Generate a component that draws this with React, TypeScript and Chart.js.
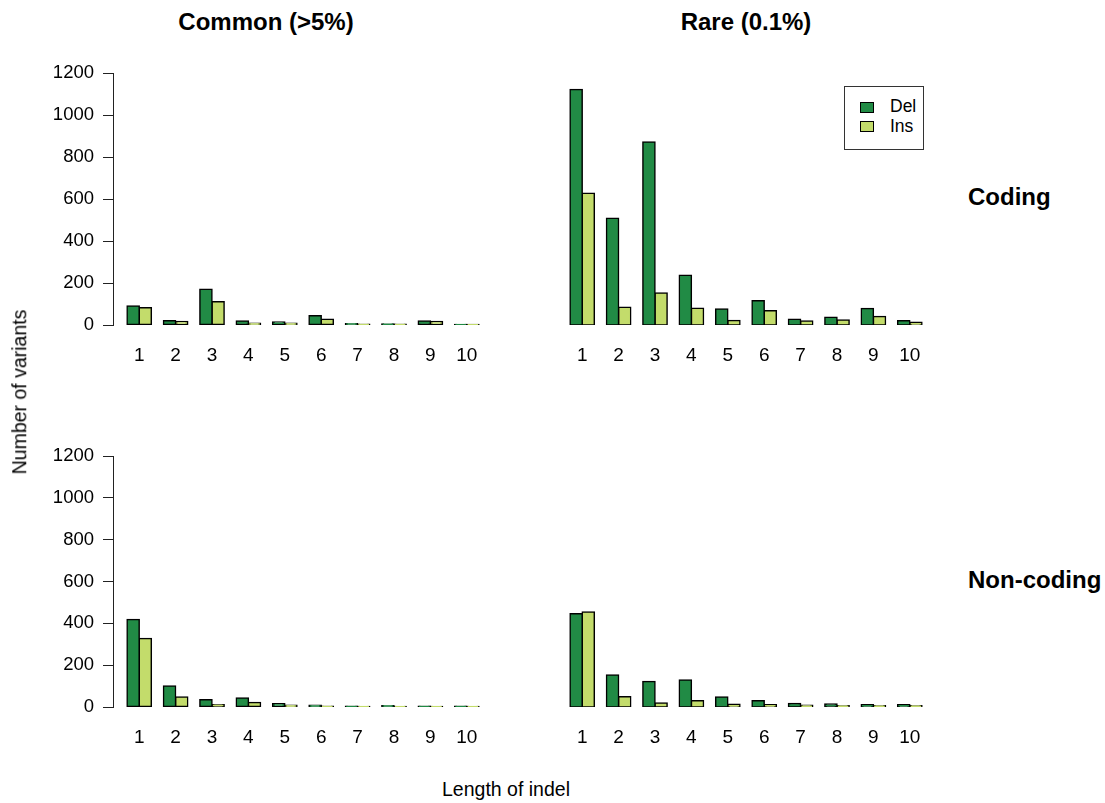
import React, { useEffect, useRef } from 'react';
import { Chart, registerables } from 'chart.js';

Chart.register(...registerables);

const lengths = [1, 2, 3, 4, 5, 6, 7, 8, 9, 10];
const yTicks = [0, 200, 400, 600, 800, 1000, 1200];

const commonCodingDel = [90, 20, 170, 19, 14, 44, 6, 5, 19, 2];
const commonCodingIns = [82, 17, 111, 8, 8, 27, 3, 3, 17, 1];
const rareCodingDel = [1122, 508, 871, 237, 76, 116, 27, 37, 79, 20];
const rareCodingIns = [627, 84, 152, 80, 22, 68, 19, 24, 41, 13];
const commonNonDel = [419, 100, 35, 43, 16, 8, 3, 6, 3, 3];
const commonNonIns = [328, 48, 11, 21, 8, 3, 2, 2, 2, 2];
const rareNonDel = [446, 153, 122, 129, 48, 30, 17, 14, 11, 11];
const rareNonIns = [454, 49, 19, 30, 13, 11, 8, 6, 6, 6];

const DEL_COLOR = '#218b45';
const INS_COLOR = '#c3dc6b';
const FONT = '"Liberation Sans", Arial, Helvetica, sans-serif';

Chart.defaults.font.family = FONT;
Chart.defaults.color = '#000';

type PanelProps = {
  del: number[];
  ins: number[];
  left: number;
  top: number;
  plotH: number;
  showY: boolean;
};

function Panel({ del, ins, left, top, plotH, showY }: PanelProps) {
  const ref = useRef<HTMLCanvasElement>(null);
  const W = 490;
  const H = 20 + plotH + 50;
  useEffect(() => {
    const barStyle = {
      borderColor: '#000',
      borderWidth: 1.5,
      inflateAmount: 0.75,
      borderSkipped: false,
      categoryPercentage: 2 / 3,
      barPercentage: 1,
    };
    const chart = new Chart(ref.current as HTMLCanvasElement, {
      type: 'bar',
      data: {
        datasets: [
          {
            label: 'Del',
            data: lengths.map((x, i) => ({ x, y: del[i] })),
            backgroundColor: DEL_COLOR,
            ...barStyle,
          },
          {
            label: 'Ins',
            data: lengths.map((x, i) => ({ x, y: ins[i] })),
            backgroundColor: INS_COLOR,
            ...barStyle,
          },
        ],
      } as any,
      options: {
        responsive: false,
        animation: false,
        layout: { padding: { top: 20, right: 10, left: 0, bottom: 0 } },
        plugins: { legend: { display: false }, tooltip: { enabled: false } },
        scales: {
          x: {
            type: 'linear',
            offset: false,
            min: 0.28,
            max: 10.72,
            grid: { display: false, drawTicks: false },
            border: { display: false },
            ticks: {
              font: { size: 19 },
              color: '#000',
              padding: 19,
              maxRotation: 0,
              autoSkip: false,
              callback: (v: any) => String(v),
            },
            afterBuildTicks: (s: any) => {
              s.ticks = lengths.map((v) => ({ value: v }));
            },
            afterFit: (s: any) => {
              s.height = 50;
            },
          },
          y: {
            display: showY,
            min: 0,
            max: 1200,
            afterBuildTicks: (s: any) => {
              s.ticks = yTicks.map((v) => ({ value: v }));
            },
            grid: {
              display: true,
              drawOnChartArea: false,
              drawTicks: true,
              tickLength: 10,
              color: '#222',
            },
            border: { display: true, color: '#222', width: 1 },
            ticks: {
              font: { size: 18.5 },
              color: '#000',
              padding: 9,
              callback: (v: any) => String(v),
            },
            afterFit: (s: any) => {
              s.width = 100;
            },
          },
        },
      } as any,
    });
    return () => chart.destroy();
  }, []);
  return (
    <canvas
      ref={ref}
      width={W}
      height={H}
      style={{ position: 'absolute', left: left - 100, top: top - 20, width: W, height: H }}
    />
  );
}

const textBase: React.CSSProperties = {
  position: 'absolute',
  fontFamily: FONT,
  color: '#000',
  whiteSpace: 'nowrap',
  lineHeight: 1,
};

export default function App() {
  return (
    <div
      style={{
        position: 'absolute',
        left: 0,
        top: 0,
        width: 1105,
        height: 803,
        background: '#fff',
        overflow: 'hidden',
      }}
    >
      <Panel del={commonCodingDel} ins={commonCodingIns} left={113} top={73} plotH={252} showY={true} />
      <Panel del={rareCodingDel} ins={rareCodingIns} left={556} top={73} plotH={252} showY={false} />
      <Panel del={commonNonDel} ins={commonNonIns} left={113} top={456} plotH={251} showY={true} />
      <Panel del={rareNonDel} ins={rareNonIns} left={556} top={456} plotH={251} showY={false} />

      <div style={{ ...textBase, left: 266, top: 22, transform: 'translate(-50%, -50%)', fontSize: 24, fontWeight: 'bold' }}>
        Common (&gt;5%)
      </div>
      <div style={{ ...textBase, left: 746, top: 22, transform: 'translate(-50%, -50%)', fontSize: 24, fontWeight: 'bold' }}>
        Rare (0.1%)
      </div>
      <div style={{ ...textBase, left: 968, top: 197, transform: 'translate(0, -50%)', fontSize: 24, fontWeight: 'bold' }}>
        Coding
      </div>
      <div style={{ ...textBase, left: 968, top: 580, transform: 'translate(0, -50%)', fontSize: 24, fontWeight: 'bold' }}>
        Non-coding
      </div>
      <div
        style={{
          ...textBase,
          left: 20,
          top: 392,
          transform: 'translate(-50%, -50%) rotate(-90deg)',
          fontSize: 19.5,
        }}
      >
        Number of variants
      </div>
      <div style={{ ...textBase, left: 506, top: 790, transform: 'translate(-50%, -50%)', fontSize: 19.5 }}>
        Length of indel
      </div>

      <div
        style={{
          position: 'absolute',
          left: 844,
          top: 86,
          width: 78,
          height: 62,
          border: '1px solid #333',
          background: '#fff',
        }}
      >
        <div style={{ position: 'absolute', left: 15, top: 15, width: 12, height: 9, background: DEL_COLOR, border: '1px solid #000' }} />
        <div style={{ ...textBase, left: 45, top: 20, transform: 'translate(0, -50%)', fontSize: 17.5 }}>Del</div>
        <div style={{ position: 'absolute', left: 15, top: 34, width: 12, height: 9, background: INS_COLOR, border: '1px solid #000' }} />
        <div style={{ ...textBase, left: 45, top: 40, transform: 'translate(0, -50%)', fontSize: 17.5 }}>Ins</div>
      </div>
    </div>
  );
}
